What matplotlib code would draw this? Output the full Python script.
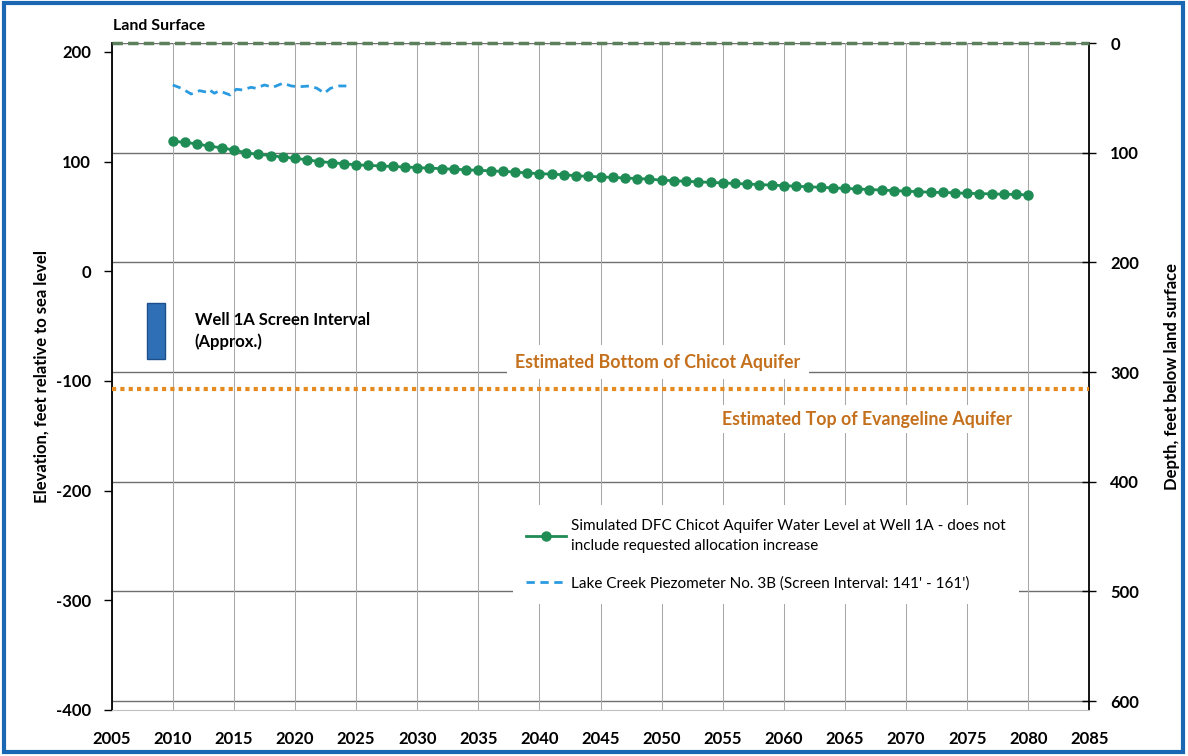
import numpy as np
import matplotlib
matplotlib.use("Agg")
import matplotlib.pyplot as plt
from matplotlib.patches import Rectangle

plt.rcParams['font.family'] = ['Lato', 'DejaVu Sans']
plt.rcParams['axes.unicode_minus'] = False

# ===== 데이터 =====
land_surface = 208.0   # 지표면 고도 (ft)

years_dfc = np.arange(2010, 2081)
dfc_level = [118.5, 117.5, 116.0, 114.0, 112.5, 110.5, 108.0, 106.5, 105.5, 104.0,
             103.0, 101.5, 100.0, 99.0, 98.0, 97.0, 96.5, 96.0, 95.5, 95.0,
             94.5, 94.0, 93.5, 93.0, 92.5, 92.0, 91.5, 91.0, 90.5, 89.5,
             89.0, 88.5, 88.0, 87.0, 86.5, 86.0, 85.5, 85.0, 84.5, 84.0,
             83.0, 82.5, 82.0, 81.5, 81.0, 80.5, 80.0, 79.5, 79.0, 78.5,
             78.0, 77.5, 77.0, 76.5, 76.0, 75.5, 75.0, 74.5, 74.0, 73.5,
             73.0, 72.5, 72.0, 71.8, 71.5, 71.0, 70.8, 70.5, 70.2, 70.0,
             69.5]

years_piezo = [2010.0, 2010.7, 2011.5, 2012.2, 2012.8, 2013.0, 2013.4, 2013.8,
               2014.7, 2015.2, 2015.7, 2016.4, 2016.8, 2017.5, 2018.2, 2019.0,
               2019.7, 2020.3, 2021.2, 2021.8, 2022.4, 2022.9, 2023.6, 2024.2]
piezo_level = [169.8, 166.8, 161.6, 164.6, 163.2, 165.3, 162.3, 164.4,
               160.7, 165.9, 165.3, 167.7, 166.8, 169.8, 167.7, 171.4,
               168.9, 168.2, 168.9, 166.8, 162.3, 166.8, 168.9, 168.9]

chicot_bottom = -107.0
screen_top, screen_bottom = -29.0, -80.0
screen_years = (2007.9, 2009.4)

x_ticks = np.arange(2005, 2086, 5)
elev_ticks = np.arange(-400, 201, 100)
depth_ticks = np.arange(0, 601, 100)

dfc_label = ("Simulated DFC Chicot Aquifer Water Level at Well 1A - does not\n"
             "include requested allocation increase")
piezo_label = "Lake Creek Piezometer No. 3B (Screen Interval: 141' - 161')"

green = '#1f8c55'
blue = '#2a9be0'
orange = '#e58a1f'
text_orange = '#c4701c'

# ===== Figure / Axes =====
fig = plt.figure(figsize=(11.88, 7.56), dpi=100)
ax = fig.add_axes([0.094, 0.061, 0.823, 0.882])
ax2 = ax.twinx()
ax.set_zorder(ax2.get_zorder() + 1)
ax.patch.set_visible(False)

ax.set_xlim(2005, 2085)
ax.set_ylim(-400, land_surface)
ax2.set_ylim(land_surface + 400, 0)

# 오른쪽 축 (깊이) 눈금선
ax2.set_yticks(depth_ticks)
ax2.yaxis.grid(True, color='#6e6e6e', lw=1.0)
ax2.tick_params(axis='y', direction='inout', length=10, width=1, pad=10,
                labelsize=12)
for lab in ax2.get_yticklabels():
    lab.set_fontweight('bold')
for s in ['left', 'top', 'bottom']:
    ax2.spines[s].set_visible(False)
ax2.spines['right'].set_linewidth(1.3)
ax2.set_ylabel("Depth, feet below land surface", fontsize=12,
               fontweight='bold', rotation=90)
ax2.yaxis.set_label_coords(1.076, 0.5)

# 왼쪽 축 (고도)
ax.set_xticks(x_ticks)
ax.set_yticks(elev_ticks)
ax.grid(axis='x', color='#a8a8a8', lw=0.75, zorder=0)
ax.tick_params(axis='x', length=0, pad=15, labelsize=12)
ax.tick_params(axis='y', direction='out', length=6, width=1, pad=9,
               labelsize=12)
for lab in ax.get_xticklabels() + ax.get_yticklabels():
    lab.set_fontweight('bold')
ax.spines['top'].set_visible(False)
ax.spines['right'].set_visible(False)
ax.spines['bottom'].set_color('#c0c0c0')
ax.spines['left'].set_linewidth(1.3)
ax.set_ylabel("Elevation, feet relative to sea level", fontsize=12,
              fontweight='bold')
ax.yaxis.set_label_coords(-0.064, 0.5)

# 지표면 (점선)
ax.axhline(land_surface, color='#5c7f5c', lw=2.5, ls=(0, (3, 1.5)),
           clip_on=False, zorder=6)
ax.text(2005.1, land_surface + 16, "Land Surface", fontsize=11.5,
        fontweight='bold', va='center', ha='left')

# 치콧 대수층 바닥
ax.axhline(chicot_bottom, color=orange, lw=3, ls=(0, (1, 1)), zorder=3)

# 우물 스크린 구간
ax.add_patch(Rectangle((screen_years[0], screen_bottom),
                       screen_years[1] - screen_years[0],
                       screen_top - screen_bottom,
                       fc='#2f6fb5', ec='#1d4f8c', lw=1, zorder=3))
ax.text(2011.8, (screen_top + screen_bottom) / 2,
        "Well 1A Screen Interval\n(Approx.)", fontsize=12, fontweight='bold',
        va='center', ha='left', linespacing=1.35)

ax.text(2038.0, -83, "Estimated Bottom of Chicot Aquifer", fontsize=12.8,
        fontweight='bold', color=text_orange, va='center', ha='left',
        bbox=dict(fc='white', ec='none', pad=6), zorder=3)
ax.text(2054.9, -135, "Estimated Top of Evangeline Aquifer", fontsize=12.8,
        fontweight='bold', color=text_orange, va='center', ha='left',
        bbox=dict(fc='white', ec='none', pad=4), zorder=3)

# 데이터 계열
ax.plot(years_dfc, dfc_level, color=green, lw=2, marker='o', markersize=6.5,
        label=dfc_label, zorder=5)
ax.plot(years_piezo, piezo_level, color=blue, lw=2, ls=(0, (3, 2)),
        label=piezo_label, zorder=5)

leg = ax.legend(loc='upper left', bbox_to_anchor=(0.41, 0.307),
                borderaxespad=0, frameon=True, fancybox=False,
                edgecolor='none', facecolor='white', framealpha=1,
                fontsize=11, handlelength=2.6, handletextpad=0.3,
                labelspacing=1.5, borderpad=0.9)
for t in leg.get_texts():
    t.set_linespacing(1.55)
leg.set_zorder(7)

# 스캔 테두리
fig.add_artist(Rectangle((0.003, 0.005), 0.993, 0.991,
                         transform=fig.transFigure, fill=False,
                         ec='#1a68b3', lw=3))

fig.savefig("out.png", dpi=100)
